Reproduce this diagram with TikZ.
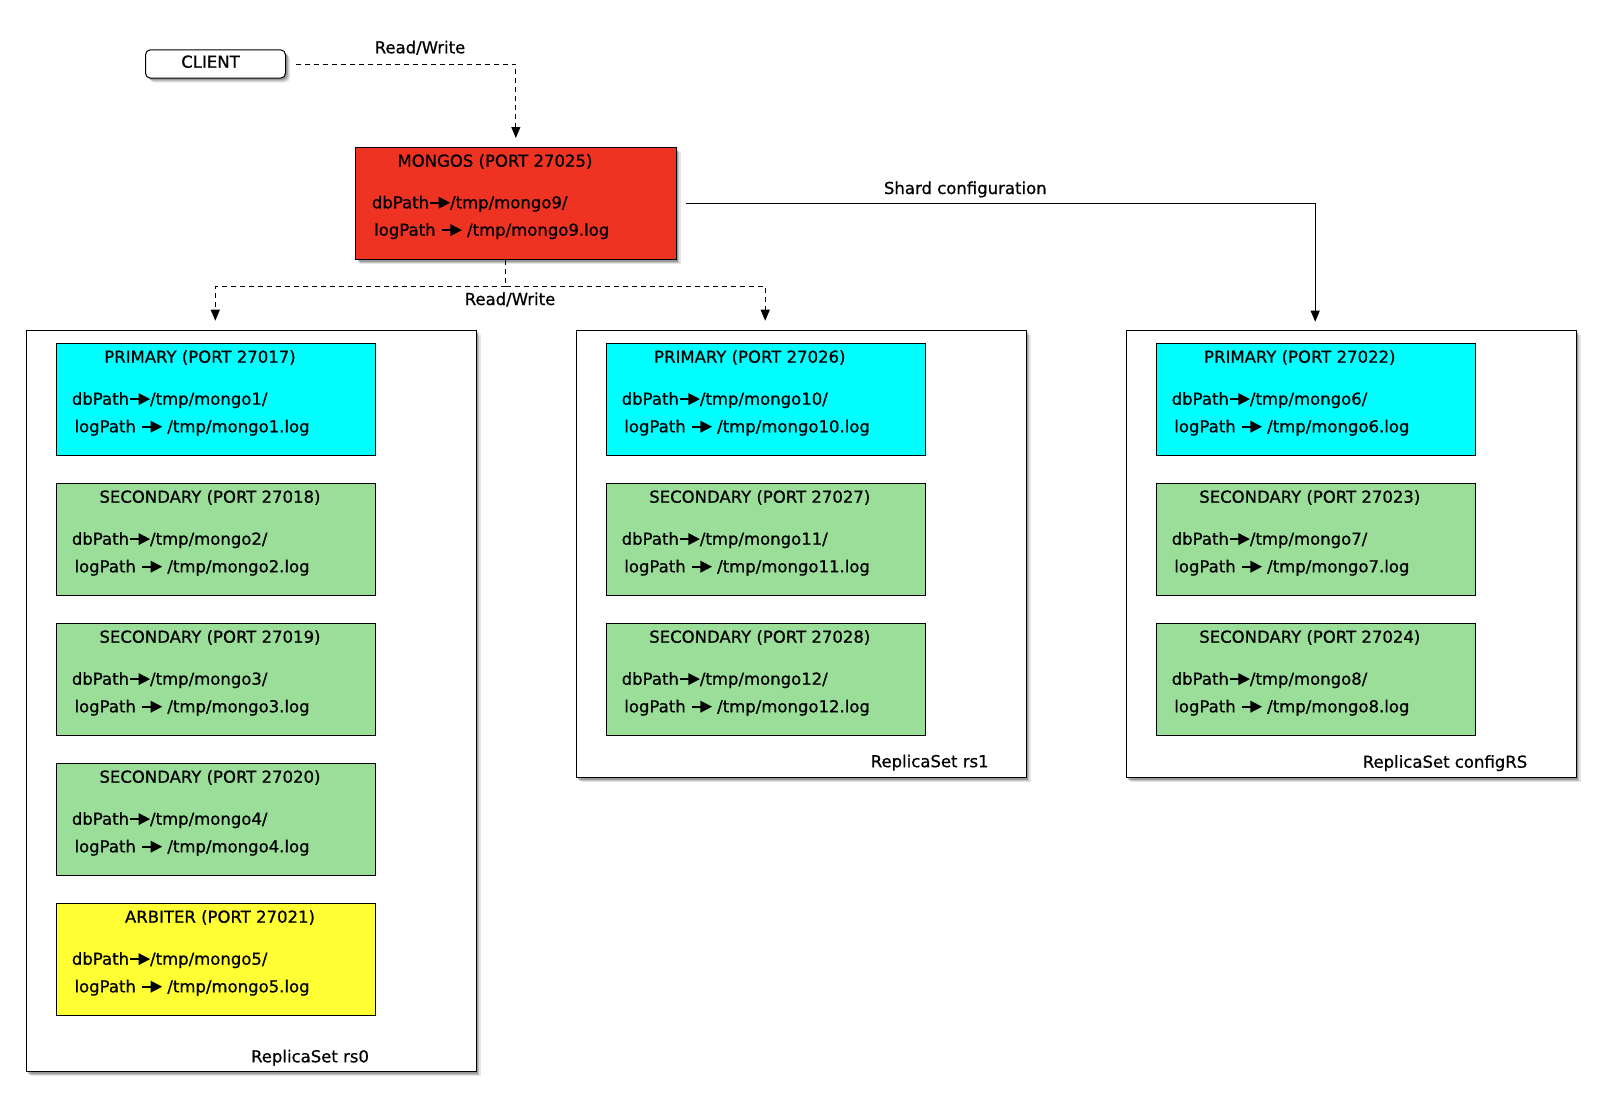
\documentclass[tikz,border=0pt]{standalone}
\usepackage{fontspec}
\setmainfont{DejaVu Sans}
\newfontfamily\lblfont[FakeBold=0.7]{DejaVu Sans}
\usetikzlibrary{arrows.meta,shadows,calc}
\definecolor{mred}{HTML}{EF3322}
\definecolor{mcyan}{HTML}{00FFFF}
\definecolor{mgreen}{HTML}{9BDE9A}
\definecolor{myellow}{HTML}{FFFF33}
\newcommand\parr{\tikz[baseline=-5.6pt,x=1pt,y=1pt]{\draw[black,line width=2pt](0,0)--(10,0);\fill[black](8.5,-6)--(20,0)--(8.5,6)--cycle;}}
\tikzset{
  softshadow/.style={
    drop shadow={shadow xshift=4.5pt,shadow yshift=-4.5pt,opacity=0.10,fill=black},
    drop shadow={shadow xshift=3.2pt,shadow yshift=-3.2pt,opacity=0.15,fill=black},
    drop shadow={shadow xshift=2pt,shadow yshift=-2pt,opacity=0.2,fill=black}},
  lbl/.style={font=\lblfont\fontsize{16.5}{19}\selectfont, inner sep=0pt, text=black},
  srvbox/.style={draw=black, line width=1pt, rectangle, inner sep=0pt, anchor=north west,
    minimum width=319.3pt, minimum height=111.7pt},
  contbox/.style={draw=black, fill=white, line width=1pt, rectangle, inner sep=0pt,
    anchor=north west, softshadow},
  arr/.style={-{Triangle[length=11pt,width=9pt]}},
  dl/.style={line width=1pt, dash pattern=on 5pt off 4pt},
  sl/.style={line width=1pt},
}
\newcommand\srvnode[8]{%
  \node[srvbox, fill=#4] (#1) at (#2,#3) {};
  \node[lbl, anchor=base] (#1-t) at ($(#1.north west)+(#6,19.4)$) {#5};
  \node[lbl, anchor=base west] (#1-d) at ($(#1.north west)+(16,61.4)$) {dbPath\parr/tmp/#7/};
  \node[lbl, anchor=base west] (#1-l) at ($(#1.north west)+(18.6,89)$) {logPath \parr{} /tmp/#8.log};
}
\begin{document}
\begin{tikzpicture}[x=1pt,y=-1pt]
\fill[white] (0,0) rectangle (1600,1106);
\useasboundingbox (0,0) rectangle (1600,1106);

% client
\node[draw=black, line width=1pt, fill=white, rounded corners=5pt, softshadow, anchor=north west,
  inner sep=0pt, minimum width=140pt, minimum height=28.4pt] (client) at (145,49.3) {};
\node[lbl, anchor=base] (clientt) at (210.5,67.7) {CLIENT};

% mongos
\node[draw=black, line width=1pt, fill=mred, softshadow, anchor=north west, inner sep=0pt,
  minimum width=320.7pt, minimum height=111.7pt] (mongos) at (355,147.3) {};
\node[lbl, anchor=base] (mongost) at ($(mongos.north west)+(140,19.4)$) {MONGOS (PORT 27025)};
\node[lbl, anchor=base west] (mongosd) at ($(mongos.north west)+(16.7,61)$) {dbPath\parr/tmp/mongo9/};
\node[lbl, anchor=base west] (mongosl) at ($(mongos.north west)+(19,88.4)$) {logPath \parr{} /tmp/mongo9.log};

% containers
\node[contbox, minimum width=450.2pt, minimum height=741.7pt] (rs0) at (25.5,329.5) {};
\node[contbox, minimum width=450.2pt, minimum height=447.9pt] (rs1) at (575.5,329.5) {};
\node[contbox, minimum width=450.2pt, minimum height=447.9pt] (rs2) at (1125.5,329.5) {};
\node[lbl, anchor=base] (rs0t) at (310,1062.3) {ReplicaSet rs0};
\node[lbl, anchor=base] (rs1t) at (929.7,767.2) {ReplicaSet rs1};
\node[lbl, anchor=base] (rs2t) at (1445,767.7) {ReplicaSet configRS};

% rs0
\srvnode{p0}{55.7}{343.3}{mcyan}{PRIMARY (PORT 27017)}{144.3}{mongo1}{mongo1}
\srvnode{s01}{55.7}{483.3}{mgreen}{SECONDARY (PORT 27018)}{154.3}{mongo2}{mongo2}
\srvnode{s02}{55.7}{623.3}{mgreen}{SECONDARY (PORT 27019)}{154.3}{mongo3}{mongo3}
\srvnode{s03}{55.7}{763.3}{mgreen}{SECONDARY (PORT 27020)}{154.3}{mongo4}{mongo4}
\srvnode{a0}{55.7}{903.3}{myellow}{ARBITER (PORT 27021)}{164.3}{mongo5}{mongo5}
% rs1
\srvnode{p1}{605.5}{343.3}{mcyan}{PRIMARY (PORT 27026)}{144.3}{mongo10}{mongo10}
\srvnode{s11}{605.5}{483.3}{mgreen}{SECONDARY (PORT 27027)}{154.3}{mongo11}{mongo11}
\srvnode{s12}{605.5}{623.3}{mgreen}{SECONDARY (PORT 27028)}{154.3}{mongo12}{mongo12}
% configRS
\srvnode{p2}{1155.5}{343.3}{mcyan}{PRIMARY (PORT 27022)}{144.3}{mongo6}{mongo6}
\srvnode{s21}{1155.5}{483.3}{mgreen}{SECONDARY (PORT 27023)}{154.3}{mongo7}{mongo7}
\srvnode{s22}{1155.5}{623.3}{mgreen}{SECONDARY (PORT 27024)}{154.3}{mongo8}{mongo8}

% connectors
\draw[dl,arr] ([xshift=10pt]client.east) -| ([yshift=9.3pt]mongos.north);
\node[lbl, anchor=base] (rw1) at (420,53.3) {Read/Write};

\coordinate (split) at (505.7,286.7);
\coordinate (t0) at (215.3,320.7);
\coordinate (t1) at (765.2,320.7);
\draw[dl] (mongos.south -| split) -- (split);
\draw[dl,arr] (split) -| (t0);
\draw[dl,arr] (split) -| (t1);
\node[lbl, anchor=base] (rw2) at (510,305) {Read/Write};

\coordinate (t2) at (1315.2,321.7);
\draw[sl,arr] ([xshift=9.3pt]mongos.east) -| (t2);
\node[lbl, anchor=base] (shard) at (965.3,194) {Shard configuration};
\end{tikzpicture}
\end{document}
